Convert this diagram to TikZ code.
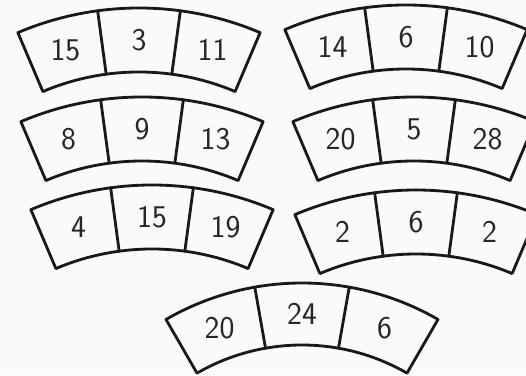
\documentclass[tikz,border=0pt]{standalone}
\usetikzlibrary{calc}

\begin{document}
\begin{tikzpicture}[x=0.02cm, y=0.02cm, line cap=round, line join=round]

% ----------------------------
% FRAME
% ----------------------------
\useasboundingbox (0,0) rectangle (526,375);
\fill[gray!4] (0,0) rectangle (526,375);

\tikzset{
  card/.style={line width=1.6pt, black!90},
  num/.style={font=\sffamily\fontsize{18}{18}\selectfont, black!85}
}

% ----------------------------
% CARDS: centre x / top y / outer radius / width / half angle / numbers
% ----------------------------
\foreach \cx/\ty/\ro/\th/\hw/\nA/\nB/\nC [count=\k] in {
    139/8/310/64/23/15/3/11,
    406/5/310/64/23/14/6/10,
    142/97/310/64/23/8/9/13,
    414/97/310/64/23/20/5/28,
    152/185/310/64/23/4/15/19,
    416/190/310/64/23/2/6/2,
    302/283/272/62/30/20/24/6}
{
  \pgfmathsetmacro{\ri}{\ro-\th}     % inner radius
  \pgfmathsetmacro{\rmid}{\ro-\th/2} % radius of the numbers
  \pgfmathsetmacro{\dv}{\hw/3}       % divider angle

  \coordinate (O\k) at (\cx,{375-\ty-\ro});

  % outline
  \draw[card] ($(O\k)+(90+\hw:\ro)$)
    arc[start angle={90+\hw}, end angle={90-\hw}, radius=\ro]
    -- ($(O\k)+(90-\hw:\ri)$)
    arc[start angle={90-\hw}, end angle={90+\hw}, radius=\ri]
    -- cycle;

  % dividers
  \draw[card] ($(O\k)+(90+\dv:\ri)$) -- ($(O\k)+(90+\dv:\ro)$);
  \draw[card] ($(O\k)+(90-\dv:\ri)$) -- ($(O\k)+(90-\dv:\ro)$);

  % numbers
  \node[num] (a\k) at ($(O\k)+(90+2*\dv:\rmid)$) {\nA};
  \node[num] (b\k) at ($(O\k)+(90:\rmid)$) {\nB};
  \node[num] (c\k) at ($(O\k)+(90-2*\dv:\rmid)$) {\nC};
}

\end{tikzpicture}
\end{document}
